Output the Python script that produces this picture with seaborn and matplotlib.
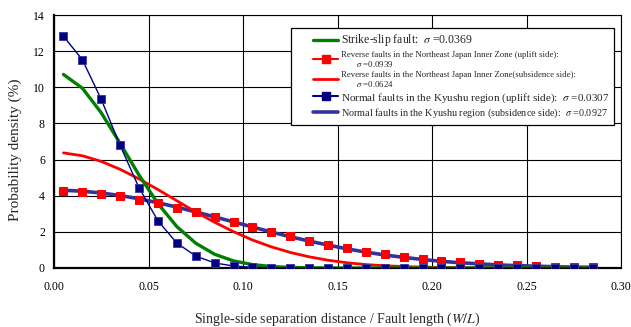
import matplotlib
matplotlib.use("Agg")
import matplotlib.pyplot as plt
import seaborn as sns
import pandas as pd
import numpy as np
from matplotlib.lines import Line2D
from matplotlib.legend_handler import HandlerLine2D

sns.set_style("white")
plt.rcParams["font.family"] = ["Liberation Serif", "DejaVu Serif"]
plt.rcParams["mathtext.fontset"] = "stix"

x = [0.005, 0.015, 0.025, 0.035, 0.045, 0.055, 0.065, 0.075, 0.085, 0.095,
     0.105, 0.115, 0.125, 0.135, 0.145, 0.155, 0.165, 0.175, 0.185, 0.195,
     0.205, 0.215, 0.225, 0.235, 0.245, 0.255, 0.265, 0.275, 0.285]

strike_slip = [10.71, 9.95, 8.59, 6.89, 5.14, 3.56, 2.29, 1.37, 0.76, 0.39,
               0.19, 0.08, 0.035, 0.013, 0.005, 0, 0, 0, 0, 0,
               0, 0, 0, 0, 0, 0, 0, 0, 0]
reverse_up = [4.24, 4.20, 4.10, 3.96, 3.79, 3.58, 3.34, 3.09, 2.82, 2.55,
              2.27, 2.01, 1.75, 1.51, 1.29, 1.09, 0.91, 0.75, 0.61, 0.49,
              0.39, 0.31, 0.24, 0.19, 0.14, 0.11, 0.08, 0.06, 0.04]
reverse_sub = [6.37, 6.21, 5.90, 5.46, 4.93, 4.34, 3.72, 3.10, 2.53, 2.01,
               1.55, 1.17, 0.86, 0.62, 0.43, 0.29, 0.19, 0.125, 0.08, 0.048,
               0.029, 0.017, 0.01, 0.005, 0.003, 0, 0, 0, 0]
normal_up = [12.82, 11.53, 9.33, 6.78, 4.44, 2.61, 1.38, 0.66, 0.28, 0.11,
             0.04, 0.01, 0.003, 0, 0, 0, 0, 0, 0, 0,
             0, 0, 0, 0, 0, 0, 0, 0, 0]
normal_sub = [4.30, 4.25, 4.15, 4.01, 3.83, 3.61, 3.37, 3.10, 2.83, 2.55,
              2.27, 1.99, 1.73, 1.49, 1.27, 1.06, 0.88, 0.72, 0.59, 0.47,
              0.37, 0.29, 0.23, 0.17, 0.13, 0.10, 0.07, 0.05, 0.04]

labels = [
    r"Strike-slip fault:  $\sigma$ =0.0369",
    "Reverse faults in the Northeast Japan Inner Zone (uplift side):\n       $\\sigma$ =0.0939",
    "Reverse faults in the Northeast Japan Inner Zone(subsidence side):\n       $\\sigma$ =0.0624",
    r"Normal faults in the Kyushu region (uplift side):  $\sigma$ =0.0307",
    r"Normal faults in the Kyushu region (subsidence side):  $\sigma$ =0.0927",
]
label_sizes = [8.5, 6.3, 6.3, 8.0, 7.3]

GREEN = "#008000"
RED = "#ff0000"
NAVY = "#000080"
SLATE = "#3333a0"

df = pd.DataFrame({"x": x, "ss": strike_slip, "ru": reverse_up, "rs": reverse_sub,
                   "nu": normal_up, "ns": normal_sub})

fig = plt.figure(figsize=(6.31, 3.27), dpi=100)
ax = fig.add_axes([54/631, 1-268/327, 567/631, 253/327])

sns.lineplot(data=df, x="x", y="ns", ax=ax, color=SLATE, lw=2.6, zorder=3)
sns.lineplot(data=df, x="x", y="ru", ax=ax, color=SLATE, lw=0, marker="s",
             markersize=5.3, markerfacecolor=RED, markeredgecolor=RED, zorder=4)
sns.lineplot(data=df, x="x", y="rs", ax=ax, color=RED, lw=2, zorder=3.5)
sns.lineplot(data=df, x="x", y="ss", ax=ax, color=GREEN, lw=2.4, zorder=3.6)
sns.lineplot(data=df, x="x", y="nu", ax=ax, color=NAVY, lw=1, marker="s",
             markersize=5.3, markerfacecolor=NAVY, markeredgecolor="#3333a0",
             markeredgewidth=0.6, zorder=5)

ax.set_xlim(0, 0.30)
ax.set_ylim(0, 14)
ax.set_xticks([0, 0.05, 0.10, 0.15, 0.20, 0.25, 0.30])
ax.set_xticklabels(["0.00", "0.05", "0.10", "0.15", "0.20", "0.25", "0.30"])
ax.set_yticks(range(0, 15, 2))
ax.grid(True, color="black", lw=0.8)
ax.set_axisbelow(True)
for s in ax.spines.values():
    s.set_color("black")
    s.set_linewidth(0.8)
ax.spines["left"].set_linewidth(1.6)
ax.spines["bottom"].set_linewidth(1.6)
ax.tick_params(axis="both", labelsize=8.5, length=0, colors="black")
ax.tick_params(axis="x", pad=9.5)
ax.tick_params(axis="y", pad=6.5)
ax.set_ylabel("Probability density (%)", fontsize=11)
ax.yaxis.set_label_coords(-0.057, 0.466)
ax.set_xlabel("Single-side separation distance / Fault length ($\\it{W/L}$)",
              fontsize=10)
ax.xaxis.set_label_coords(0.5, -0.17)


class RightHandler(HandlerLine2D):
    def get_xdata(self, legend, xdescent, ydescent, width, height, fontsize):
        x0 = -xdescent + width * 0.42
        x1 = -xdescent + width
        return np.array([x0, x1]), np.array([(x0 + x1) / 2])


handles = [
    Line2D([], [], color=GREEN, lw=2.4),
    Line2D([], [], color=RED, lw=1.5, marker="s", markersize=5.5, markerfacecolor=RED),
    Line2D([], [], color=RED, lw=2),
    Line2D([], [], color=NAVY, lw=1.5, marker="s", markersize=5.5, markerfacecolor=NAVY),
    Line2D([], [], color=SLATE, lw=2.6),
]
leg = ax.legend(handles, labels, loc="upper right", bbox_to_anchor=(0.9877, 0.9486),
                fontsize=8, frameon=True, fancybox=False, framealpha=1,
                edgecolor="black", handlelength=3.8, handletextpad=0.3,
                labelspacing=0.2, borderpad=0.4, borderaxespad=0,
                handler_map={Line2D: RightHandler()})
leg.get_frame().set_linewidth(0.9)
for t, s in zip(leg.get_texts(), label_sizes):
    t.set_fontsize(s)
    t.set_linespacing(1.0)

fig.savefig("out.png", dpi=100)
